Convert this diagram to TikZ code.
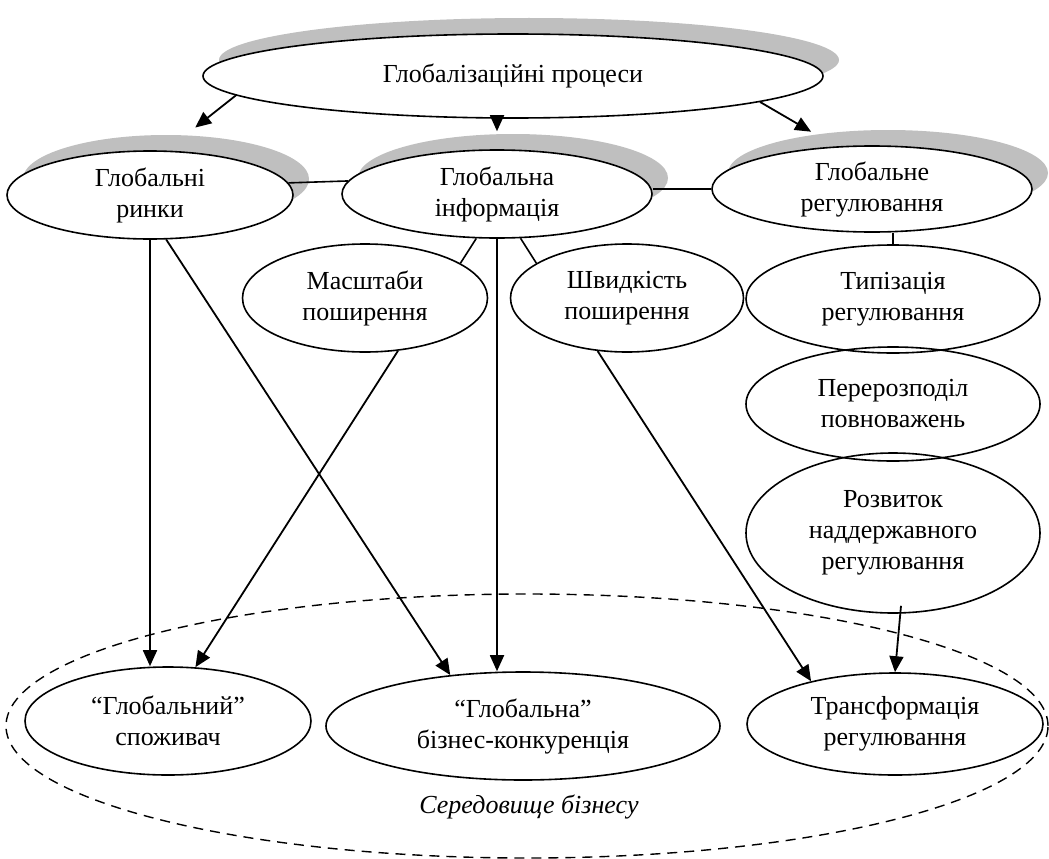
\documentclass[tikz,border=0pt]{standalone}
\usepackage{fontspec}
\setmainfont{Liberation Serif}
\usetikzlibrary{arrows.meta,shapes.geometric,shadows}
\tikzset{
  oval/.style={ellipse,draw,line width=1.6pt,inner sep=0pt,align=center},
  ovalshade/.style={oval,fill=white,drop shadow={shadow xshift=16pt,shadow yshift=16pt,fill=black!25,opacity=1}},
  arr/.style={line width=1.8pt,-{Triangle[length=16pt,width=14pt]}},
  link/.style={line width=1.6pt}
}

\begin{document}
\begin{tikzpicture}[x=1pt,y=-1pt,font=\fontsize{26}{31}\selectfont]
  \useasboundingbox (0,0) rectangle (1049,859);
  % environment
  \node[ellipse,draw,line width=1.4pt,dash pattern=on 10pt off 7pt,minimum width=1042pt,minimum height=264pt] (sered) at (527,726) {};
  \node[font=\fontsize{26}{31}\selectfont\itshape] (seredlbl) at (529,807) {Середовище бізнесу};
  % top levels
  \node[ovalshade,minimum width=620pt,minimum height=84pt] (proc) at (513,76) {Глобалізаційні процеси};
  \node[ovalshade,minimum width=286pt,minimum height=88pt] (rynky) at (150,195) {Глобальні\\ринки};
  \node[ovalshade,minimum width=310pt,minimum height=88pt] (info) at (497,194) {Глобальна\\інформація};
  \node[ovalshade,minimum width=320pt,minimum height=86pt] (regul) at (872,189) {Глобальне\\регулювання};
  % middle
  \node[oval,minimum width=245pt,minimum height=108pt] (masht) at (365,298) {Масштаби\\поширення};
  \node[oval,minimum width=233pt,minimum height=108pt] (shvyd) at (627,298) {Швидкість\\поширення};
  \node[oval,minimum width=294pt,minimum height=108pt] (tipiz) at (893,299) {Типізація\\регулювання};
  \node[oval,minimum width=294pt,minimum height=114pt] (perer) at (893,404) {Перерозподіл\\повноважень};
  \node[oval,minimum width=294pt,minimum height=160pt] (rozv) at (893,533) {Розвиток\\наддержавного\\регулювання};
  % bottom
  \node[oval,minimum width=286pt,minimum height=108pt] (spoz) at (168,721) {“Глобальний”\\споживач};
  \node[oval,minimum width=394pt,minimum height=108pt] (konk) at (523,726) {“Глобальна”\\бізнес-конкуренція};
  \node[oval,minimum width=296pt,minimum height=102pt] (transf) at (895,724) {Трансформація\\регулювання};
  % links
  \draw[arr,shorten >=37pt] (proc.184) -- (rynky.70);
  \draw[arr,shorten >=18pt] (info.north |- proc.south) -- (info.north);
  \draw[arr,shorten >=29pt] (proc.354.6) -- (regul.130);
  \draw[link] (rynky.5) -- (info.175);
  \draw[link] (regul.west) -- (regul.west -| info.east);
  \draw[link] (tipiz.north) -- (tipiz.north |- regul.south);
  \draw[link] (info.245) -- (masht.20);
  \draw[link] (info.298) -- (shvyd.159);
  \draw[arr] (rynky.south) -- (rynky.south |- spoz.north);
  \draw[arr] (rynky.-70) -- (konk.145);
  \draw[arr] (masht.-58) -- (spoz.63);
  \draw[arr] (info.south) -- (info.south |- konk.north);
  \draw[arr] (shvyd.241) -- (transf.153);
  \draw[arr] ([xshift=8pt,yshift=8pt]rozv.south) -- (transf.north);
\end{tikzpicture}
\end{document}
